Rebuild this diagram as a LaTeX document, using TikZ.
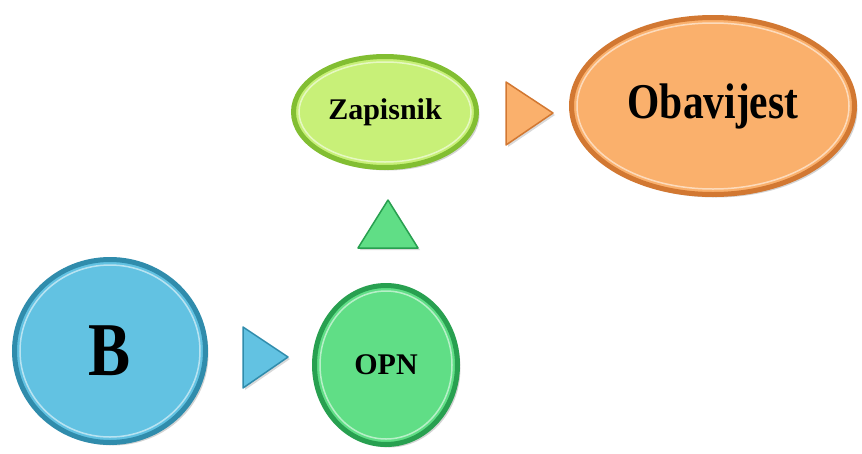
\documentclass[tikz,border=0pt]{standalone}
\usepackage{fontspec}
\setmainfont{Liberation Serif}
\usetikzlibrary{shapes.geometric,shadows}

\definecolor{bfill}{RGB}{98,194,226}
\definecolor{brim}{RGB}{48,140,172}
\definecolor{gfill}{RGB}{96,222,134}
\definecolor{grim}{RGB}{40,160,80}
\definecolor{yfill}{RGB}{200,240,120}
\definecolor{yrim}{RGB}{130,190,50}
\definecolor{ofill}{RGB}{250,176,108}
\definecolor{orim}{RGB}{210,120,50}

\tikzset{
  bubble/.style={ellipse, fill=#1fill, draw=#1rim, line width=5pt, inner sep=0pt,
    drop shadow={opacity=0.35, shadow xshift=3pt, shadow yshift=-3pt}, font=\bfseries},
  rimlight/.style={white, opacity=0.55, line width=1.5pt},
  arrowtri/.style={fill=#1fill, draw=#1rim, line width=1.5pt, line join=round,
    drop shadow={opacity=0.3, shadow xshift=2pt, shadow yshift=-2pt}},
}

\begin{document}
\begin{tikzpicture}[x=1pt,y=-1pt]
  \useasboundingbox (0,0) rectangle (862,453);

  % bubbles
  \node [bubble=b, minimum width=191pt, minimum height=183pt] (b) at (110,351)
    {\fontsize{76}{76}\selectfont\scalebox{0.83}[1]{B}};
  \node [bubble=g, minimum width=143pt, minimum height=159pt] (opn) at (386,365)
    {\fontsize{30}{30}\selectfont OPN};
  \node [bubble=y, minimum width=183pt, minimum height=111pt] (zap) at (385,112)
    {\fontsize{30}{30}\selectfont Zapisnik};
  \node [bubble=o, minimum width=283pt, minimum height=177pt] (obav) at (713,106)
    {\fontsize{50}{50}\selectfont\scalebox{0.83}[1]{Obavijest}};

  % inner highlights
  \draw [rimlight] (b.center) ellipse [x radius=90, y radius=86];
  \draw [rimlight] (opn.center) ellipse [x radius=66, y radius=74];
  \draw [rimlight] (zap.center) ellipse [x radius=86, y radius=50];
  \draw [rimlight] (obav.center) ellipse [x radius=136, y radius=83];

  % arrows
  \draw [arrowtri=b] (243,327) -- (288,357) -- (243,388) -- cycle;
  \draw [arrowtri=g] (358,248) -- (388,200) -- (418,248) -- cycle;
  \draw [arrowtri=o] (506,82) -- (553,113) -- (506,145) -- cycle;
\end{tikzpicture}
\end{document}
